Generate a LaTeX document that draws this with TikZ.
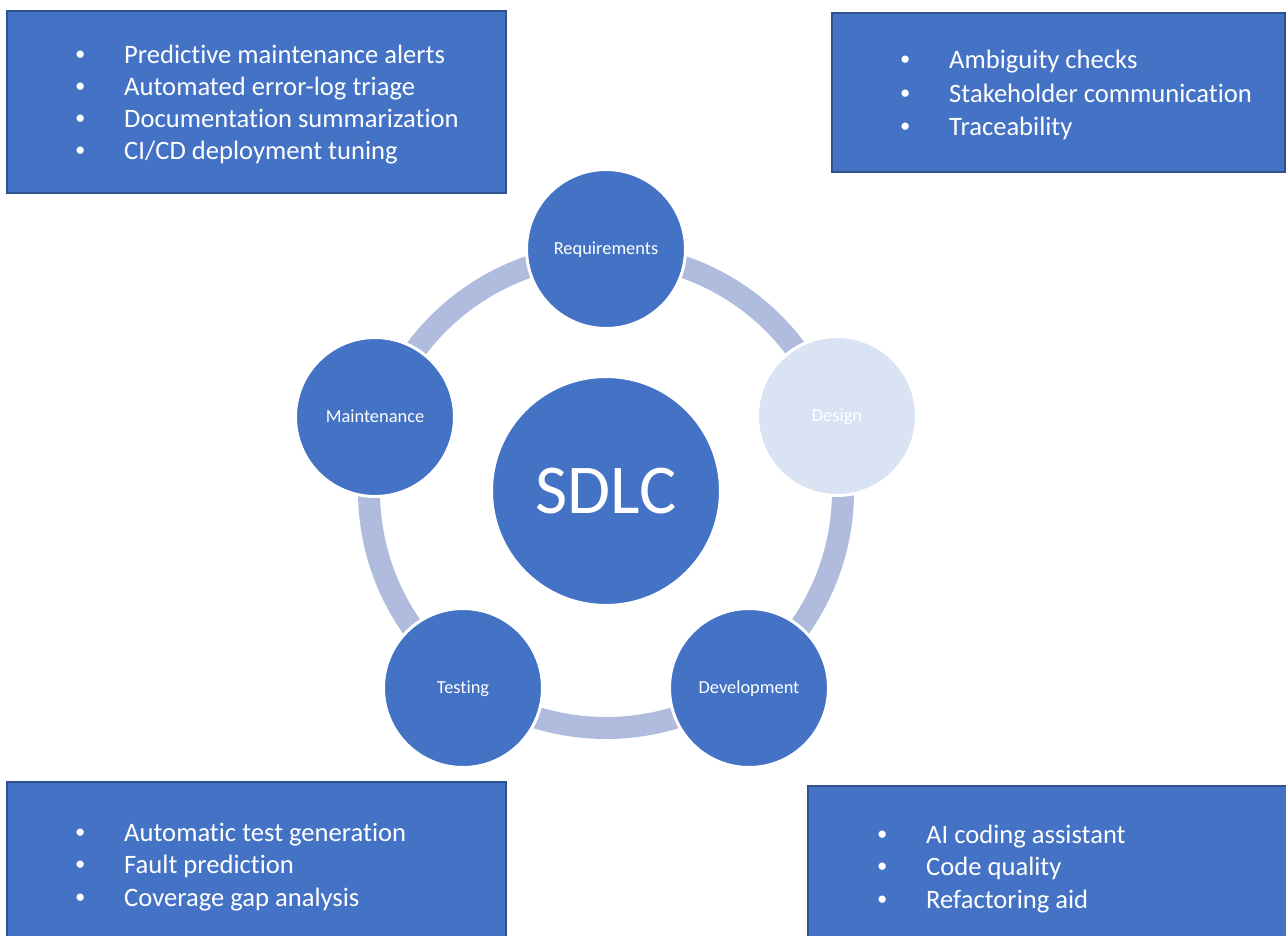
\documentclass[tikz,border=0pt]{standalone}
\usepackage{fontspec}
\setmainfont{Carlito}[Ligatures={NoCommon}]
\newfontfamily\bulletfont{Liberation Sans}
\definecolor{accent}{RGB}{68,114,196}
\definecolor{navy}{RGB}{47,82,143}
\definecolor{ringc}{RGB}{176,188,222}
\definecolor{pale}{RGB}{218,227,243}
% bullet hanging 44pt to the left of the item text
\newcommand\bulletmark{\llap{\makebox[88pt]{\bulletfont •}}}
\begin{document}
\begin{tikzpicture}[x=1pt,y=-1pt,
  infobox/.style={fill=accent, draw=navy, line width=2pt},
  item/.style={anchor=base west, inner sep=0pt, text=white,
    font=\fontsize{26.6}{32}\selectfont},
  stage/.style={circle, minimum size=159pt, inner sep=0pt, fill=accent,
    draw=white, line width=3pt, text=white,
    font=\fontsize{18.4}{22}\selectfont, text height=11.8pt, text depth=0pt},
  hub/.style={stage, minimum size=229pt,
    font=\fontsize{70}{80}\selectfont, text height=45pt},
  ring/.style={draw=ringc, line width=22pt}]
\useasboundingbox (0,0) rectangle (1286,936);
\clip (0,0) rectangle (1286,936);

% feature boxes
\draw[infobox] (7,11) rectangle (506,193);
\draw[infobox] (832,13) rectangle (1285,172);
\draw[infobox] (7,782) rectangle (506,960);
\draw[infobox] (808,786) rectangle (1300,960);

\foreach \t [count=\i from 0] in {Predictive maintenance alerts,
    Automated error-log triage, Documentation summarization,
    CI/CD deployment tuning}
  \node[item] (mnt\i) at (124,64+32*\i) {\bulletmark\t};
\foreach \t [count=\i from 0] in {Ambiguity checks,
    Stakeholder communication, Traceability}
  \node[item] (req\i) at (949,69+33.3*\i) {\bulletmark\t};
\foreach \t [count=\i from 0] in {Automatic test generation,
    Fault prediction, Coverage gap analysis}
  \node[item] (tst\i) at (124,841+32.5*\i) {\bulletmark\t};
\foreach \t [count=\i from 0] in {AI coding assistant,
    Code quality, Refactoring aid}
  \node[item] (dev\i) at (926,843+32.5*\i) {\bulletmark\t};

% cycle ring behind the stage circles
\coordinate (hubc) at (606,491);
\draw[ring] (hubc) circle (237);

% stages
\node[hub] (sdlc) at (hubc) {SDLC};
\node[stage] (requirements) at (606,249) {Requirements};
\node[stage, fill=pale] (design) at (837,416) {Design};
\node[stage] (development) at (749,688) {Development};
\node[stage] (testing) at (463,688) {Testing};
\node[stage] (maintenance) at (375,417) {Maintenance};
\end{tikzpicture}
\end{document}
